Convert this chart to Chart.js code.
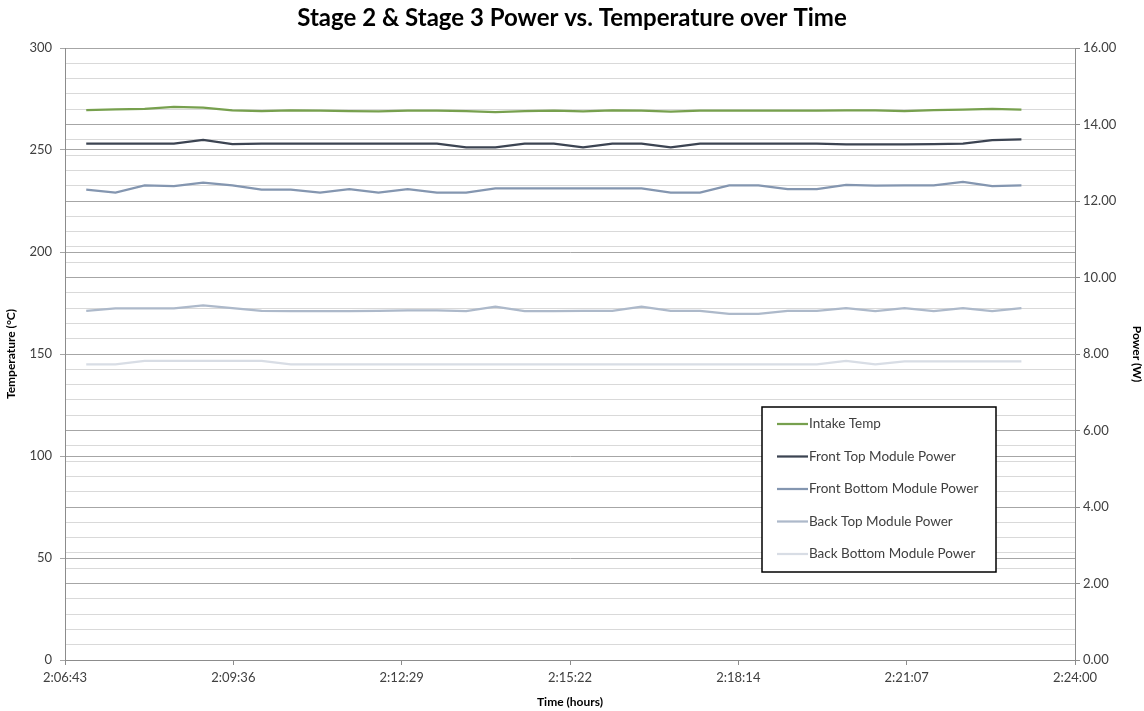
<!DOCTYPE html>
<html>
<head>
<meta charset="utf-8">
<script src="https://cdn.jsdelivr.net/npm/chart.js@4/dist/chart.umd.min.js"></script>
<style>
  html, body { margin: 0; padding: 0; background: #fff; }
  #wrap { width: 1144px; height: 711px; position: relative; }
</style>
</head>
<body>
<div id="wrap"><canvas id="powerCanvas"></canvas></div>
<script>
// sample times (h:mm:ss)
var sampleTimes = ['2:07:05', '2:07:35', '2:08:05', '2:08:35', '2:09:05', '2:09:35', '2:10:05', '2:10:35',
	'2:11:05', '2:11:35', '2:12:05', '2:12:35', '2:13:05', '2:13:35', '2:14:05', '2:14:35', '2:15:05',
	'2:15:35', '2:16:05', '2:16:35', '2:17:05', '2:17:35', '2:18:05', '2:18:35', '2:19:05', '2:19:35',
	'2:20:05', '2:20:35', '2:21:05', '2:21:35', '2:22:05', '2:22:35', '2:23:05'];

// Temperature (°C) - left axis
var intakeTemp = [269.6, 269.9, 270.1, 271.1, 270.8, 269.4, 269.1, 269.4, 269.3, 269.1, 268.9, 269.3,
	269.3, 269.1, 268.6, 269.1, 269.3, 268.9, 269.4, 269.3, 268.8, 269.3, 269.3, 269.3, 269.3, 269.3,
	269.4, 269.4, 269.1, 269.6, 269.8, 270.1, 269.8];

// Power (W) - right axis
var frontTopPower = [13.50, 13.50, 13.50, 13.50, 13.60, 13.49, 13.50, 13.50, 13.50, 13.50, 13.50, 13.50,
	13.50, 13.40, 13.40, 13.50, 13.50, 13.40, 13.50, 13.50, 13.40, 13.50, 13.50, 13.50, 13.50, 13.50,
	13.48, 13.48, 13.48, 13.49, 13.50, 13.59, 13.61];
var frontBottomPower = [12.30, 12.22, 12.41, 12.39, 12.48, 12.41, 12.30, 12.30, 12.22, 12.31, 12.22, 12.31,
	12.22, 12.22, 12.33, 12.33, 12.33, 12.33, 12.33, 12.33, 12.22, 12.22, 12.41, 12.41, 12.31, 12.31,
	12.42, 12.40, 12.41, 12.41, 12.50, 12.39, 12.41];
var backTopPower = [9.13, 9.19, 9.19, 9.19, 9.27, 9.20, 9.13, 9.12, 9.12, 9.12, 9.13, 9.14,
	9.14, 9.12, 9.24, 9.12, 9.12, 9.13, 9.13, 9.24, 9.13, 9.13, 9.05, 9.05, 9.13, 9.13,
	9.20, 9.12, 9.20, 9.12, 9.20, 9.12, 9.20];
var backBottomPower = [7.73, 7.73, 7.82, 7.82, 7.82, 7.82, 7.82, 7.73, 7.73, 7.73, 7.73, 7.73,
	7.73, 7.73, 7.73, 7.73, 7.73, 7.73, 7.73, 7.73, 7.73, 7.73, 7.73, 7.73, 7.73, 7.73,
	7.82, 7.73, 7.81, 7.81, 7.81, 7.81, 7.81];

// axis range: 0.088 .. 0.100 days, step 0.002 days
var xMin = 7603.2, xMax = 8640, xStep = 172.8;

function toSec(t) {
	var p = t.split(':');
	return (+p[0]) * 3600 + (+p[1]) * 60 + (+p[2]);
}
function fmtTime(s) {
	s = Math.round(s);
	var h = Math.floor(s / 3600), m = Math.floor((s % 3600) / 60), sec = s % 60;
	return h + ':' + String(m).padStart(2, '0') + ':' + String(sec).padStart(2, '0');
}
function pts(vals) {
	return vals.map(function (v, i) { return { x: toSec(sampleTimes[i]), y: v }; });
}

var FONT = 'Lato, "Open Sans", sans-serif';

var dataSets = [
	{ label: 'Intake Temp', data: pts(intakeTemp), borderColor: '#77a04e', yAxisID: 'y' },
	{ label: 'Front Top Module Power', data: pts(frontTopPower), borderColor: '#3c4452', yAxisID: 'y1' },
	{ label: 'Front Bottom Module Power', data: pts(frontBottomPower), borderColor: '#8496b0', yAxisID: 'y1' },
	{ label: 'Back Top Module Power', data: pts(backTopPower), borderColor: '#adb9ca', yAxisID: 'y1' },
	{ label: 'Back Bottom Module Power', data: pts(backBottomPower), borderColor: '#d8dde5', yAxisID: 'y1' }
];
dataSets.forEach(function (d) {
	d.borderWidth = 2.25;
	d.pointRadius = 0;
	d.fill = false;
	d.tension = 0;
});

// boxed legend inside the plot
var boxLegend = {
	id: 'boxLegend',
	afterDraw: function (chart) {
		var ctx = chart.ctx;
		var bx = 762, by = 407, bw = 234, bh = 165;
		ctx.save();
		ctx.fillStyle = '#ffffff';
		ctx.fillRect(bx, by, bw, bh);
		ctx.strokeStyle = '#000000';
		ctx.lineWidth = 1.5;
		ctx.strokeRect(bx, by, bw, bh);
		ctx.font = '13.5px ' + FONT;
		ctx.textBaseline = 'middle';
		chart.data.datasets.forEach(function (ds, i) {
			var y = by + 17 + i * 32.5;
			ctx.strokeStyle = ds.borderColor;
			ctx.lineWidth = 2.25;
			ctx.beginPath();
			ctx.moveTo(bx + 15, y);
			ctx.lineTo(bx + 46, y);
			ctx.stroke();
			ctx.fillStyle = '#404040';
			ctx.fillText(ds.label, bx + 47, y);
		});
		ctx.restore();
	}
};

function isMajorPower(v) {
	return Math.abs(v / 2 - Math.round(v / 2)) < 1e-6;
}

var ctx = document.getElementById('powerCanvas').getContext('2d');
var chart = new Chart(ctx, {
	type: 'line',
	data: { datasets: dataSets },
	plugins: [boxLegend],
	options: {
		responsive: true,
		maintainAspectRatio: false,
		animation: false,
		layout: { padding: 0 },
		plugins: {
			legend: { display: false },
			tooltip: { enabled: false },
			title: {
				display: true,
				text: 'Stage 2 & Stage 3 Power vs. Temperature over Time',
				color: '#000000',
				font: { family: FONT, size: 24, weight: 'bold' },
				padding: { top: 4, bottom: 15.2 }
			}
		},
		scales: {
			x: {
				type: 'linear',
				min: xMin,
				max: xMax,
				afterFit: function (s) { s.height = 51; },
				ticks: {
					stepSize: xStep,
					autoSkip: false,
					maxRotation: 0,
					padding: 5,
					color: '#404040',
					font: { family: FONT, size: 13 },
					callback: function (v) { return fmtTime(v); }
				},
				grid: { drawOnChartArea: false, tickLength: 5, color: '#8c8c8c' },
				border: { color: '#8c8c8c' },
				title: {
					display: true,
					text: 'Time (hours)',
					color: '#000000',
					font: { family: FONT, size: 12, weight: 'bold' },
					padding: { top: 0, bottom: 2 }
				}
			},
			y: {
				position: 'left',
				min: 0,
				max: 300,
				afterFit: function (s) { s.width = 65; },
				ticks: {
					stepSize: 50,
					padding: 8,
					color: '#404040',
					font: { family: FONT, size: 13 }
				},
				grid: { color: '#a6a6a6', tickLength: 5 },
				border: { color: '#8c8c8c' },
				title: {
					display: true,
					text: 'Temperature (°C)',
					color: '#000000',
					font: { family: FONT, size: 12, weight: 'bold' },
					padding: { top: 4, bottom: 0 }
				}
			},
			y1: {
				position: 'right',
				min: 0,
				max: 16,
				afterFit: function (s) { s.width = 69; },
				ticks: {
					stepSize: 0.4,
					autoSkip: false,
					padding: 3,
					color: '#404040',
					font: { family: FONT, size: 13 },
					callback: function (v) { return isMajorPower(v) ? v.toFixed(2) : ''; }
				},
				grid: {
					tickLength: 5,
					color: function (c) { return isMajorPower(c.tick.value) ? '#a6a6a6' : '#d9d9d9'; },
					tickColor: function (c) { return isMajorPower(c.tick.value) ? '#8c8c8c' : 'rgba(0,0,0,0)'; }
				},
				border: { color: '#8c8c8c' },
				title: {
					display: true,
					text: 'Power (W)',
					color: '#000000',
					font: { family: FONT, size: 12, weight: 'bold' },
					padding: { top: 0, bottom: 0 }
				}
			}
		}
	}
});
</script>
</body>
</html>
